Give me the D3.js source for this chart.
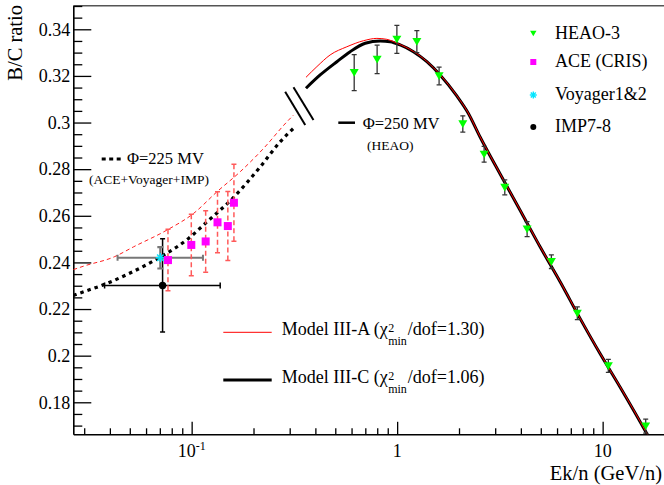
<!DOCTYPE html>
<html><head><meta charset="utf-8">
<script src="https://cdn.jsdelivr.net/npm/d3@7"></script>
<style>body{margin:0;background:#fff;}</style></head>
<body><svg id="c" width="664" height="485"></svg>
<script>
// ---------- data ----------
const heaoE   = [0.618, 0.799, 0.997, 1.247, 1.60, 2.087, 2.65, 3.34, 4.29, 5.63, 7.53, 10.66, 16.2];
const heaoBC  = [0.3214, 0.3271, 0.3357, 0.3347, 0.3200, 0.2994, 0.2864, 0.2722, 0.2543, 0.2403, 0.2182, 0.1956, 0.1698];
const heaoErr = [0.0077, 0.0061, 0.0060, 0.0047, 0.0038, 0.0035, 0.0034, 0.0032, 0.0032, 0.0029, 0.0027, 0.0028, 0.0030];

const aceE   = [0.0767, 0.0996, 0.117, 0.1336, 0.150, 0.1606];
const aceBC  = [0.2410, 0.2475, 0.2490, 0.2572, 0.2556, 0.2656];
const aceErr = [0.0132, 0.0132, 0.0132, 0.0131, 0.0148, 0.0165];

const voyE = [0.0704], voyBC = [0.2420], voyErr = [0.0046], voyElo = [0.0436], voyEhi = [0.1135];
const impE = [0.0722], impBC = [0.2301], impErr = [0.0200], impElo = [0.0377], impEhi = [0.1377];

// Model III-C, phi=250 MV (HEAO)
const modelC_E  = [0.360, 0.422, 0.509, 0.591, 0.699, 0.827, 0.925, 1.034, 1.20, 1.395, 1.618, 1.951, 2.215, 2.533, 3.170, 3.965, 4.96, 6.21, 7.76, 9.71, 12.15, 16.39, 18.0];
const modelC_BC = [0.3147, 0.3204, 0.3261, 0.3304, 0.3340, 0.3350, 0.3347, 0.3333, 0.3304, 0.3261, 0.3204, 0.3114, 0.3041, 0.2938, 0.2779, 0.2624, 0.2467, 0.2317, 0.2160, 0.2009, 0.1866, 0.1666, 0.1600];
// Model III-A, phi=250 MV (HEAO)
const modelA_E  = [0.360, 0.407, 0.472, 0.569, 0.686, 0.797, 0.891, 1.0, 1.20, 1.395, 1.618, 1.951, 2.215, 2.533, 3.170, 3.965, 4.96, 6.21, 7.76, 9.71, 12.15, 16.39, 18.0];
const modelA_BC = [0.3194, 0.3240, 0.3290, 0.3325, 0.3351, 0.3361, 0.3357, 0.3340, 0.3305, 0.3262, 0.3205, 0.3115, 0.3042, 0.2939, 0.2780, 0.2625, 0.2468, 0.2318, 0.2161, 0.2010, 0.1867, 0.1667, 0.1601];
// Model III-C, phi=225 MV (ACE+Voyager+IMP)
const lowC_E  = [0.02655, 0.0298, 0.0380, 0.0484, 0.0606, 0.0730, 0.0966, 0.1187, 0.1599, 0.2157, 0.270, 0.319];
const lowC_BC = [0.2258, 0.2274, 0.2307, 0.2348, 0.2391, 0.2431, 0.2503, 0.2574, 0.2679, 0.2810, 0.2918, 0.2982];
// Model III-A, phi=225 MV
const lowA_E  = [0.02655, 0.0298, 0.0420, 0.0522, 0.0759, 0.1021, 0.1328, 0.1723, 0.2238, 0.2907, 0.313];
const lowA_BC = [0.2369, 0.2384, 0.2424, 0.2467, 0.2539, 0.2610, 0.2703, 0.2789, 0.2889, 0.3003, 0.3032];

// break mark "//" (data coords)
const breakA = [[0.2852, 0.3132], [0.357, 0.2989]];
const breakB = [[0.313, 0.3151], [0.3916, 0.3011]];

const yMajor = [0.18, 0.20, 0.22, 0.24, 0.26, 0.28, 0.30, 0.32, 0.34];
const xMajor = [0.1, 1, 10];
const xMajorLabels = [["10", "-1"], ["1", ""], ["10", ""]];

// ---------- setup ----------
const FONT = '"Liberation Serif"';
const svg = d3.select("#c").style("font-family", FONT);
const L = 73.3, R = 670, T = 5.7, B = 434.3;
const x = d3.scaleLog().domain([0.02655, 21.27]).range([L, R]);
const y = d3.scaleLinear().domain([0.16627, 0.35012]).range([B, T]);

svg.append("defs").append("clipPath").attr("id", "clip")
  .append("rect").attr("x", L).attr("y", T).attr("width", R - L).attr("height", B - T);

svg.append("line").attr("x1", L).attr("x2", 664).attr("y1", T).attr("y2", T)
  .attr("stroke", "#555").attr("stroke-width", 1.5);

// axes
const minorY = d3.range(0.17, 0.3501, 0.005).filter(v => !yMajor.some(m => Math.abs(m - v) < 1e-6));
const gy = svg.append("g").attr("transform", `translate(${L},0)`);
gy.call(d3.axisLeft(y).tickValues(yMajor).tickSizeInner(-18).tickSizeOuter(0).tickPadding(3)
  .tickFormat(v => String(+v.toFixed(2))));
gy.append("g").call(d3.axisLeft(y).tickValues(minorY).tickSizeInner(-9).tickSizeOuter(0).tickFormat(""))
  .select(".domain").remove();
gy.attr("font-family", null).attr("font-size", null);
gy.selectAll("text").attr("font-size", 18).attr("fill", "#000");
gy.selectAll("path,line").attr("stroke", "#000").attr("stroke-width", 1.3);
gy.select(".domain").attr("stroke-width", 1.6);

const minorX = [];
[0.01, 0.1, 1, 10].forEach(d => { for (let k = 2; k <= 9; k++) { const v = d * k; if (v > 0.02655 && v < 21) minorX.push(v); } });
const gx = svg.append("g").attr("transform", `translate(0,${B})`);
gx.call(d3.axisBottom(x).tickValues(xMajor).tickSizeInner(-12.5).tickSizeOuter(0).tickFormat(""));
gx.append("g").call(d3.axisBottom(x).tickValues(minorX).tickSizeInner(-6).tickSizeOuter(0).tickFormat(""))
  .select(".domain").remove();
gx.selectAll("path,line").attr("stroke", "#000").attr("stroke-width", 1.3);
gx.select(".domain").attr("stroke-width", 1.6);

xMajor.forEach((v, i) => {
  const t = svg.append("text").attr("x", x(v)).attr("y", 456.5).attr("text-anchor", "middle")
    .attr("font-size", 18);
  t.append("tspan").text(xMajorLabels[i][0]);
  if (xMajorLabels[i][1]) t.append("tspan").attr("font-size", 12).attr("dy", -7).text(xMajorLabels[i][1]);
});

svg.append("text").attr("x", 662).attr("y", 479.5).attr("text-anchor", "end").attr("font-size", 20.5)
  .text("Ek/n (GeV/n)");
svg.append("text").attr("transform", "translate(22,5) rotate(-90)").attr("text-anchor", "end")
  .attr("font-size", 20.5).text("B/C ratio");

// ---------- curves ----------
const line = d3.line().x(d => x(d[0])).y(d => y(d[1])).curve(d3.curveMonotoneX);
const plot = svg.append("g").attr("clip-path", "url(#clip)");
const zip = (a, b) => a.map((v, i) => [v, b[i]]);

plot.append("path").attr("d", line(zip(lowA_E, lowA_BC))).attr("fill", "none")
  .attr("stroke", "#ff2020").attr("stroke-width", 1).attr("stroke-dasharray", "4,3");
plot.append("path").attr("d", line(zip(lowC_E, lowC_BC))).attr("fill", "none")
  .attr("stroke", "#000").attr("stroke-width", 3.2).attr("stroke-dasharray", "3.5,4");
plot.append("path").attr("d", line(zip(modelC_E, modelC_BC))).attr("fill", "none")
  .attr("stroke", "#000").attr("stroke-width", 3);
plot.append("path").attr("d", line(zip(modelA_E, modelA_BC))).attr("fill", "none")
  .attr("stroke", "#ff0000").attr("stroke-width", 1);

[breakA, breakB].forEach(b => {
  svg.append("line").attr("x1", x(b[0][0])).attr("y1", y(b[0][1])).attr("x2", x(b[1][0])).attr("y2", y(b[1][1]))
    .attr("stroke", "#000").attr("stroke-width", 2);
});

// ---------- error bars & markers ----------
function vbar(g, xe, v, e, color, w, dash, cap) {
  g.append("line").attr("x1", x(xe)).attr("x2", x(xe)).attr("y1", y(v + e)).attr("y2", y(v - e))
    .attr("stroke", color).attr("stroke-width", w).attr("stroke-dasharray", dash || null);
  [v + e, v - e].forEach(c => {
    if (y(c) > B) return;
    g.append("line").attr("x1", x(xe) - cap).attr("x2", x(xe) + cap).attr("y1", y(c)).attr("y2", y(c))
      .attr("stroke", color).attr("stroke-width", w);
  });
}
function hbar(g, lo, hi, v, color, w, cap) {
  g.append("line").attr("x1", x(lo)).attr("x2", x(hi)).attr("y1", y(v)).attr("y2", y(v))
    .attr("stroke", color).attr("stroke-width", w);
  [lo, hi].forEach(c => g.append("line").attr("x1", x(c)).attr("x2", x(c)).attr("y1", y(v) - cap).attr("y2", y(v) + cap)
    .attr("stroke", color).attr("stroke-width", w));
}
const pts = plot.append("g");

impE.forEach((e, i) => {
  vbar(pts, e, impBC[i], impErr[i], "#000", 1.5, null, 2.5);
  hbar(pts, impElo[i], impEhi[i], impBC[i], "#000", 1.5, 3);
});
voyE.forEach((e, i) => {
  hbar(pts, voyElo[i], voyEhi[i], voyBC[i], "#777", 2, 3);
  vbar(pts, e, voyBC[i], voyErr[i], "#777", 2.2, null, 3);
});
aceE.forEach((e, i) => vbar(pts, e, aceBC[i], aceErr[i], "#ff5a5a", 1.5, "5,3", 2.5));
heaoE.forEach((e, i) => vbar(pts, e, heaoBC[i], heaoErr[i], "#333", 1.3, null, 2.5));

const tri = (g, cx, cy, s) => g.append("path")
  .attr("d", `M${cx - s},${cy - s * 0.8}L${cx + s},${cy - s * 0.8}L${cx},${cy + s * 0.9}Z`).attr("fill", "#00ff00");
const sq = (g, cx, cy, s) => g.append("rect").attr("x", cx - s).attr("y", cy - s).attr("width", 2 * s).attr("height", 2 * s)
  .attr("fill", "#ff00ff");
const star = (g, cx, cy, r) => {
  for (let k = 0; k < 4; k++) {
    const a = k * Math.PI / 4;
    g.append("line").attr("x1", cx - r * Math.cos(a)).attr("y1", cy - r * Math.sin(a))
      .attr("x2", cx + r * Math.cos(a)).attr("y2", cy + r * Math.sin(a)).attr("stroke", "#00e5ff").attr("stroke-width", 1.4);
  }
};
const dot = (g, cx, cy, r) => g.append("circle").attr("cx", cx).attr("cy", cy).attr("r", r).attr("fill", "#000");

impE.forEach((e, i) => dot(pts, x(e), y(impBC[i]), 3.7));
voyE.forEach((e, i) => star(pts, x(e), y(voyBC[i]), 4.5));
aceE.forEach((e, i) => sq(pts, x(e), y(aceBC[i]), 4));
heaoE.forEach((e, i) => tri(pts, x(e), y(heaoBC[i]), 4.5));

// ---------- legends ----------
const lg = svg.append("g").attr("font-size", 18);
const legItems = [["HEAO-3", tri, 33.3, 3.2], ["ACE (CRIS)", sq, 62, 3], ["Voyager1&2", star, 95, 3.5], ["IMP7-8", dot, 127, 3]];
legItems.forEach(([txt, fn, cy, s]) => {
  fn(lg, 533.3, cy, s);
  lg.append("text").attr("x", 555).attr("y", cy + 5.3).text(txt);
});

svg.append("line").attr("x1", 101.7).attr("x2", 124).attr("y1", 159).attr("y2", 159)
  .attr("stroke", "#000").attr("stroke-width", 3).attr("stroke-dasharray", "4,3.5");
svg.append("text").attr("x", 127).attr("y", 164).attr("font-size", 16.5).text("Φ=225 MV");
svg.append("text").attr("x", 89).attr("y", 184).attr("font-size", 13.5).text("(ACE+Voyager+IMP)");
svg.append("line").attr("x1", 338.3).attr("x2", 355).attr("y1", 122.7).attr("y2", 122.7)
  .attr("stroke", "#000").attr("stroke-width", 2.5);
svg.append("text").attr("x", 362.7).attr("y", 128.5).attr("font-size", 16.5).text("Φ=250 MV");
svg.append("text").attr("x", 367).attr("y", 150).attr("font-size", 13.5).text("(HEAO)");

function modelEntry(yc, color, w, label, val) {
  svg.append("line").attr("x1", 223.3).attr("x2", 271.7).attr("y1", yc).attr("y2", yc)
    .attr("stroke", color).attr("stroke-width", w);
  const x0 = 281.7, base = yc + 3;
  const t1 = svg.append("text").attr("x", x0).attr("y", base).attr("font-size", 18).style("font-family", FONT).text(label + " (χ");
  const w1 = t1.node().getComputedTextLength();
  svg.append("text").attr("x", x0 + w1 + 0.5).attr("y", base - 3.5).attr("font-size", 12).text("2");
  const t3 = svg.append("text").attr("x", x0 + w1 + 0.5).attr("y", base + 9.5).attr("font-size", 12).style("font-family", FONT).text("min");
  const w3 = t3.node().getComputedTextLength();
  svg.append("text").attr("x", x0 + w1 + w3 + 1.5).attr("y", base).attr("font-size", 18).text("/dof=" + val + ")");
}
modelEntry(332.3, "#ff0000", 1, "Model III-A", "1.30");
modelEntry(380, "#000", 3, "Model III-C", "1.06");

svg.selectAll("text").style("font-family", FONT);
</script></body></html>
